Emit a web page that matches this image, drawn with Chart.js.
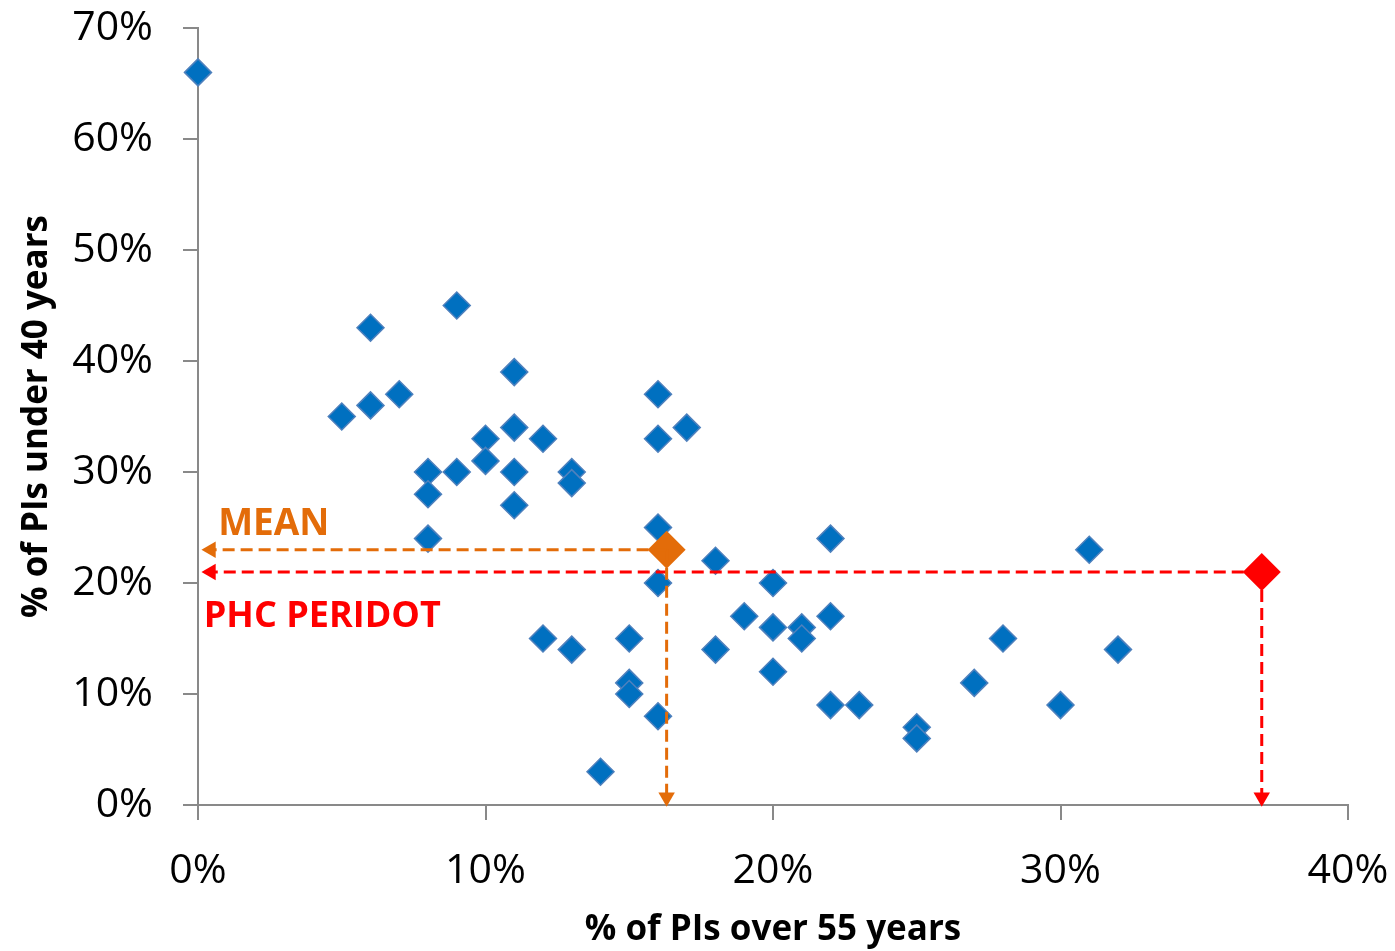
<!DOCTYPE html>
<html lang="en">
<head>
  <meta charset="UTF-8" />
  <title>PIs age scatter</title>
  <style>
    html, body { margin: 0; padding: 0; background: #fff; }
    #wrap { width: 1395px; height: 951px; }
  </style>
</head>
<body>
  <div id="wrap"><canvas id="ageChart" width="1395" height="951"></canvas></div>

  <script src="https://cdn.jsdelivr.net/npm/chart.js"></script>
  <script>
    // % of PIs over 55 years (x) and % of PIs under 40 years (y), one entry per institute
    const over55 = [0, 5, 6, 6, 7, 8, 8, 8, 9, 9, 10, 10, 11, 11, 11, 11, 12, 12, 13, 13, 13,
      14, 15, 15, 15, 16, 16, 16, 16, 16, 17, 18, 18, 19, 20, 20, 20, 21, 21, 22, 22, 22,
      23, 25, 25, 27, 28, 30, 31, 32];
    const under40 = [66, 35, 43, 36, 37, 30, 28, 24, 45, 30, 33, 31, 39, 34, 30, 27, 33, 15, 30, 29, 14,
      3, 15, 11, 10, 37, 33, 25, 20, 8, 34, 22, 14, 17, 20, 16, 12, 16, 15, 24, 17, 9,
      9, 7, 6, 11, 15, 9, 23, 14];

    const meanPoint = { x: 16.3, y: 23 };
    const peridotPoint = { x: 37, y: 21 };
    const arrowEndX = 0.45;   // where the arrowheads sit along the axes
    const arrowEndY = 0.7;

    const xTicks = [0, 10, 20, 30, 40];
    const yTicks = [0, 10, 20, 30, 40, 50, 60, 70];

    const orange = '#E36C09';
    const red = '#FF0000';
    const blue = '#0070C0';

    function arrow(from, to, color, rot) {
      return {
        data: [from, to],
        showLine: true,
        borderColor: color,
        borderWidth: 3,
        borderDash: [12, 6],
        backgroundColor: color,
        pointStyle: 'triangle',
        pointRadius: [0, 9.5],
        pointBorderWidth: 0,
        pointRotation: [0, rot],
        clip: false
      };
    }

    const labelsPlugin = {
      id: 'noteLabels',
      afterDatasetsDraw(chart) {
        const { ctx, scales: { x, y } } = chart;
        ctx.save();
        ctx.font = 'bold 37px "Open Sans"';
        ctx.textBaseline = 'middle';
        ctx.textAlign = 'left';
        ctx.fillStyle = orange;
        ctx.fillText('MEAN', x.getPixelForValue(0.7), y.getPixelForValue(25.3));
        ctx.fillStyle = red;
        ctx.font = 'bold 36px "Open Sans"';
        ctx.fillText('PHC PERIDOT', x.getPixelForValue(0.2), y.getPixelForValue(17.0));
        ctx.restore();
      }
    };

    const pts = over55.map((v, i) => ({ x: v, y: under40[i] }));

    new Chart(document.getElementById('ageChart').getContext('2d'), {
      type: 'scatter',
      data: {
        datasets: [
          arrow(meanPoint, { x: arrowEndX, y: meanPoint.y }, orange, 270),
          arrow(meanPoint, { x: meanPoint.x, y: arrowEndY }, orange, 180),
          arrow(peridotPoint, { x: arrowEndX, y: peridotPoint.y }, red, 270),
          arrow(peridotPoint, { x: peridotPoint.x, y: arrowEndY }, red, 180),
          {
            data: [meanPoint],
            pointStyle: 'rectRot',
            pointRadius: 19,
            backgroundColor: orange,
            borderColor: orange,
            borderWidth: 0,
            clip: false
          },
          {
            data: [peridotPoint],
            pointStyle: 'rectRot',
            pointRadius: 19,
            backgroundColor: red,
            borderColor: red,
            borderWidth: 0,
            clip: false
          },
          {
            data: pts,
            pointStyle: 'rectRot',
            pointRadius: 13.5,
            backgroundColor: blue,
            borderColor: '#4F81BD',
            borderWidth: 1.5,
            clip: false
          }
        ]
      },
      options: {
        responsive: false,
        animation: false,
        layout: { padding: { top: 28, right: 47, left: 0, bottom: 0 } },
        plugins: { legend: { display: false }, tooltip: { enabled: false } },
        scales: {
          x: {
            type: 'linear',
            min: 0,
            max: 40,
            afterBuildTicks: s => { s.ticks = xTicks.map(v => ({ value: v })); },
            afterFit: s => { s.height = 146; s.paddingLeft = 0; s.paddingRight = 0; },
            grid: { drawOnChartArea: false, drawTicks: true, tickLength: 15, color: '#898989', lineWidth: 2 },
            border: { color: '#898989', width: 2 },
            ticks: {
              callback: v => v + '%',
              color: '#000',
              padding: 27,
              font: { family: '"Open Sans"', size: 41 }
            },
            title: {
              display: true,
              text: '% of PIs over 55 years',
              color: '#000',
              padding: { top: 0, bottom: 0 },
              font: { family: '"Open Sans"', size: 35, weight: 'bold' }
            }
          },
          y: {
            type: 'linear',
            min: 0,
            max: 70,
            afterBuildTicks: s => { s.ticks = yTicks.map(v => ({ value: v })); },
            afterFit: s => { s.width = 198; s.paddingTop = 0; s.paddingBottom = 0; },
            grid: { drawOnChartArea: false, drawTicks: true, tickLength: 15, color: '#898989', lineWidth: 2 },
            border: { color: '#898989', width: 2 },
            ticks: {
              callback: v => v + '%',
              color: '#000',
              padding: 30,
              font: { family: '"Open Sans"', size: 41 }
            },
            title: {
              display: true,
              text: '% of PIs under 40 years',
              color: '#000',
              padding: { top: 16, bottom: 0 },
              font: { family: '"Open Sans"', size: 35, weight: 'bold' }
            }
          }
        }
      },
      plugins: [labelsPlugin]
    });
  </script>
</body>
</html>
